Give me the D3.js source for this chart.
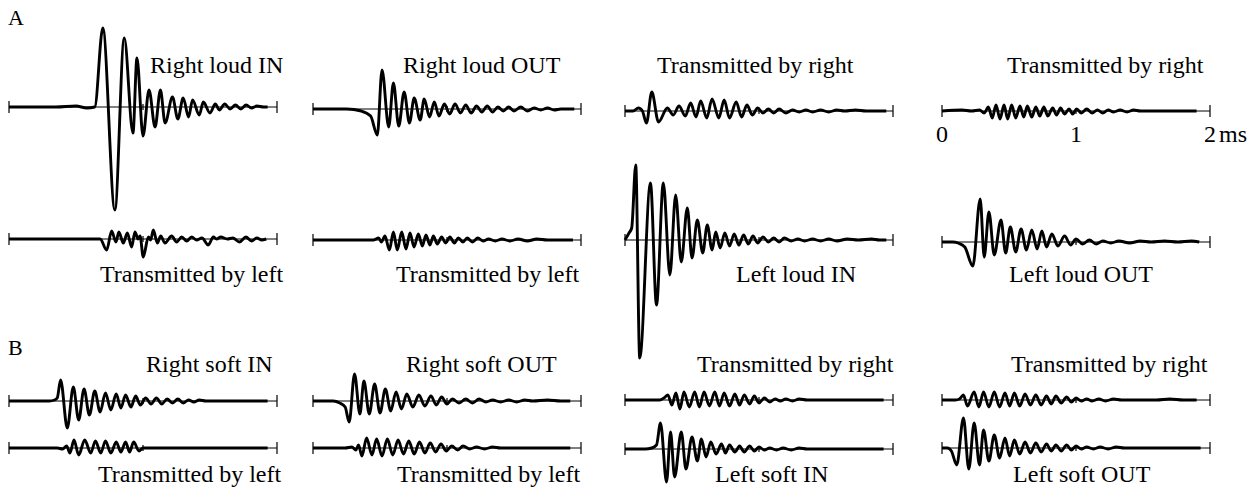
<!DOCTYPE html>
<html>
<head>
<meta charset="utf-8">
<script src="https://cdn.jsdelivr.net/npm/d3@7/dist/d3.min.js"></script>
<style>
  body { margin: 0; background: #fff; }
  text { font-family: "Liberation Serif", "Times New Roman", serif; fill: #000; }
</style>
</head>
<body>
<svg id="chart" width="1255" height="488"></svg>
<script>
// each trace: [time in ms, amplitude] at the turning points

// A, top row
const rightLoudIn = [[0,0],[0.35,0],[0.5,1],[0.58,-1],[0.64,0],[0.70,79],[0.79,-103],[0.86,69],[0.925,-26],[0.955,49],[1.0,-29],[1.045,17],[1.09,-20],[1.13,17],[1.165,-16],[1.22,10],[1.26,-12],[1.30,9],[1.34,-10],[1.37,7],[1.42,-8],[1.45,5],[1.50,-6],[1.54,3],[1.57,-3],[1.61,3],[1.65,-2],[1.69,2],[1.73,-2],[1.77,2],[1.81,-1],[1.85,1],[1.9,0],[1.93,0]];
const rightLoudOut = [[0,0],[0.25,0],[0.36,-2],[0.43,-7],[0.48,-26],[0.515,39],[0.565,-18],[0.60,26],[0.64,-17],[0.68,17],[0.72,-14],[0.755,11],[0.80,-11],[0.83,10],[0.87,-8],[0.905,7],[0.94,-7],[0.98,5],[1.02,-5],[1.06,5],[1.10,-4],[1.14,4],[1.18,-4],[1.22,3],[1.26,-3],[1.30,3],[1.34,-3],[1.38,2],[1.42,-2],[1.46,2],[1.50,-2],[1.55,2],[1.60,-2],[1.65,1],[1.70,-1],[1.75,1],[1.80,-1],[1.85,0],[1.95,0]];
const transByRightLoudA = [[0,0],[0.06,0],[0.1,3],[0.13,0],[0.16,-12],[0.20,19],[0.25,-11],[0.316,3],[0.36,-4],[0.403,5],[0.45,-5],[0.49,8],[0.53,-6],[0.565,10],[0.61,-7],[0.65,12],[0.70,-7],[0.74,11],[0.78,-7],[0.83,9],[0.87,-6],[0.91,6],[0.95,-4],[0.99,3],[1.03,-2],[1.07,2],[1.11,-2],[1.15,2],[1.20,-2],[1.25,1],[1.30,-1],[1.35,1],[1.40,-1],[1.46,1],[1.52,-1],[1.58,1],[1.64,0],[1.72,1],[1.80,0],[1.95,0]];
const transByRightLoudB = [[0,0],[0.15,1],[0.22,0],[0.28,1],[0.315,-2],[0.346,4],[0.375,-7],[0.403,6],[0.433,-8],[0.463,6],[0.49,-8],[0.52,6],[0.55,-7],[0.582,5],[0.61,-6],[0.637,5],[0.67,-6],[0.70,4],[0.73,-5],[0.76,4],[0.79,-5],[0.826,3],[0.855,-4],[0.885,3],[0.915,-3],[0.948,2],[0.975,-3],[1.005,2],[1.04,-2],[1.08,2],[1.12,-2],[1.16,1],[1.20,-2],[1.24,1],[1.28,-1],[1.33,1],[1.38,-1],[1.43,1],[1.48,0],[1.90,0]];

// A, second row
const transByLeftLoudA = [[0,0],[0.68,0],[0.729,-11],[0.766,8],[0.798,-3],[0.82,7],[0.853,-4],[0.883,6],[0.915,-8],[0.94,7],[0.963,0],[0.978,3],[1.002,-18],[1.04,2],[1.057,-1],[1.077,9],[1.107,-4],[1.132,3],[1.164,-4],[1.214,3],[1.251,-3],[1.289,2],[1.326,-2],[1.363,2],[1.40,-1],[1.44,1],[1.487,-6],[1.525,2],[1.55,0],[1.58,2],[1.63,0],[1.67,1],[1.72,-3],[1.768,2],[1.81,-2],[1.85,1],[1.886,-1],[1.92,0]];
const transByLeftLoudB = [[0,0],[0.45,0],[0.49,2],[0.51,-2],[0.537,4],[0.57,-10],[0.60,8],[0.629,-10],[0.662,8],[0.694,-9],[0.724,7],[0.754,-7],[0.786,6],[0.816,-6],[0.843,5],[0.873,-5],[0.898,4],[0.928,-4],[0.96,3],[0.99,-3],[1.022,3],[1.055,-3],[1.085,2],[1.12,-2],[1.15,2],[1.19,-2],[1.23,2],[1.27,-1],[1.31,1],[1.36,-1],[1.41,1],[1.47,-1],[1.53,1],[1.60,-1],[1.67,1],[1.75,0],[1.94,0]];
const leftLoudIn = [[0,0],[0.03,7],[0.05,12],[0.08,75],[0.11,-118],[0.19,57],[0.235,-65],[0.286,57],[0.335,-35],[0.378,45],[0.42,-22],[0.465,32],[0.50,-18],[0.54,20],[0.58,-13],[0.614,15],[0.65,-10],[0.677,8],[0.71,-8],[0.745,7],[0.78,-6],[0.815,6],[0.85,-5],[0.885,5],[0.92,-4],[0.955,4],[0.99,-3],[1.03,3],[1.07,-2],[1.11,2],[1.15,-2],[1.19,2],[1.24,-1],[1.29,1],[1.34,-1],[1.40,1],[1.46,-1],[1.52,1],[1.58,-1],[1.66,1],[1.74,0],[1.84,1],[1.90,0],[1.95,0]];
const leftLoudOut = [[0,0],[0.08,0],[0.12,-1],[0.17,-5],[0.23,-24],[0.285,43],[0.315,-15],[0.35,30],[0.39,-13],[0.44,22],[0.475,-11],[0.51,15],[0.55,-10],[0.59,13],[0.63,-8],[0.67,12],[0.71,-7],[0.745,11],[0.78,-5],[0.82,8],[0.865,-4],[0.915,6],[0.96,-3],[1.0,3],[1.05,-2],[1.10,2],[1.15,-2],[1.20,1],[1.26,-1],[1.32,1],[1.40,-1],[1.48,1],[1.56,0],[1.66,1],[1.76,0],[1.86,1],[1.92,0]];

// B, top row
const rightSoftIn = [[0,0],[0.3,0],[0.34,1],[0.36,3],[0.385,21],[0.435,-27],[0.48,14],[0.52,-19],[0.56,12],[0.60,-14],[0.64,10],[0.68,-11],[0.72,8],[0.76,-9],[0.80,7],[0.835,-7],[0.87,6],[0.91,-6],[0.945,5],[0.98,-4],[1.02,3],[1.06,-3],[1.10,3],[1.14,-3],[1.18,2],[1.22,-2],[1.26,2],[1.30,-2],[1.34,1],[1.38,-1],[1.42,1],[1.47,0],[1.93,0]];
const rightSoftOut = [[0,0],[0.15,0],[0.2,-2],[0.24,-6],[0.27,-21],[0.31,27],[0.35,-13],[0.38,20],[0.42,-13],[0.46,17],[0.50,-12],[0.54,12],[0.58,-10],[0.62,9],[0.66,-8],[0.70,7],[0.745,-6],[0.79,6],[0.835,-5],[0.88,5],[0.92,-4],[0.96,4],[1.0,-3],[1.04,2],[1.09,-2],[1.14,2],[1.19,-2],[1.24,2],[1.29,-1],[1.34,1],[1.40,-1],[1.46,1],[1.52,-1],[1.58,1],[1.64,0],[1.75,1],[1.85,0],[1.92,0]];
const transByRightSoftA = [[0,0],[0.26,0],[0.29,2],[0.32,5],[0.35,-5],[0.38,7],[0.41,-9],[0.44,8],[0.48,-7],[0.52,8],[0.555,-7],[0.59,8],[0.63,-6],[0.67,8],[0.705,-6],[0.74,7],[0.78,-6],[0.82,6],[0.855,-5],[0.89,5],[0.93,-4],[0.965,4],[1.0,-3],[1.04,2],[1.08,-2],[1.12,1],[1.16,-1],[1.20,1],[1.25,-1],[1.30,1],[1.36,0],[1.93,0]];
const transByRightSoftB = [[0,0],[0.10,0],[0.13,1],[0.16,5],[0.19,-6],[0.24,8],[0.275,-7],[0.31,8],[0.35,-7],[0.39,8],[0.43,-7],[0.47,7],[0.505,-6],[0.54,7],[0.58,-6],[0.62,6],[0.66,-5],[0.70,5],[0.74,-5],[0.78,4],[0.815,-4],[0.85,4],[0.89,-3],[0.93,3],[0.965,-2],[1.0,2],[1.04,-1],[1.08,1],[1.12,-1],[1.17,1],[1.22,-1],[1.28,1],[1.34,0],[1.6,0],[1.7,1],[1.8,0],[1.9,0]];

// B, second row
const transByLeftSoftA = [[0,0],[0.36,0],[0.40,-1],[0.43,2],[0.455,-5],[0.485,8],[0.52,-7],[0.565,8],[0.61,-5],[0.645,7],[0.685,-5],[0.72,7],[0.76,-5],[0.80,6],[0.835,-4],[0.87,6],[0.90,-4],[0.93,6],[0.97,-3],[1.0,0],[1.93,0]];
const transByLeftSoftB = [[0,0],[0.24,0],[0.29,1],[0.32,-2],[0.34,3],[0.365,-8],[0.40,10],[0.44,-7],[0.475,9],[0.515,-8],[0.555,9],[0.595,-7],[0.635,8],[0.675,-6],[0.715,7],[0.755,-6],[0.795,6],[0.835,-5],[0.875,5],[0.915,-4],[0.955,4],[0.995,-3],[1.035,2],[1.08,-2],[1.12,2],[1.17,-1],[1.22,1],[1.28,-1],[1.34,1],[1.40,0],[1.92,0]];
const leftSoftIn = [[0,0],[0.15,0],[0.2,1],[0.235,4],[0.265,26],[0.31,-33],[0.34,17],[0.37,-28],[0.42,17],[0.455,-20],[0.50,12],[0.54,-12],[0.57,10],[0.605,-8],[0.64,7],[0.68,-5],[0.72,5],[0.75,-4],[0.78,4],[0.82,-3],[0.855,3],[0.89,-3],[0.93,3],[0.965,-2],[1.0,2],[1.04,-1],[1.08,1],[1.13,-1],[1.18,1],[1.24,-1],[1.30,1],[1.36,0],[1.93,0]];
const leftSoftOut = [[0,0],[0.04,0],[0.07,-3],[0.11,-17],[0.16,30],[0.20,-21],[0.24,25],[0.28,-17],[0.31,18],[0.35,-13],[0.39,13],[0.43,-10],[0.47,10],[0.505,-8],[0.54,8],[0.58,-6],[0.62,6],[0.66,-5],[0.70,5],[0.74,-4],[0.78,4],[0.815,-3],[0.85,3],[0.89,-3],[0.93,3],[0.965,-2],[1.0,2],[1.04,-1],[1.08,1],[1.13,-1],[1.18,1],[1.24,-1],[1.30,1],[1.36,0],[1.93,0]];

const traces = [
  [rightLoudIn, rightLoudOut, transByRightLoudA, transByRightLoudB],
  [transByLeftLoudA, transByLeftLoudB, leftLoudIn, leftLoudOut],
  [rightSoftIn, rightSoftOut, transByRightSoftA, transByRightSoftB],
  [transByLeftSoftA, transByLeftSoftB, leftSoftIn, leftSoftOut]
];
const traceNames = [
  ["Right loud IN", "Right loud OUT", "Transmitted by right", "Transmitted by right"],
  ["Transmitted by left", "Transmitted by left", "Left loud IN", "Left loud OUT"],
  ["Right soft IN", "Right soft OUT", "Transmitted by right", "Transmitted by right"],
  ["Transmitted by left", "Transmitted by left", "Left soft IN", "Left soft OUT"]
];
const timeTicks = [0, 1, 2];
const timeUnit = "ms";
const sectionLetters = ["A", "B"];

// layout
const colX = [9, 313, 625, 942];
const span = 268;
const rowBase = [[107, 109, 111, 111], [239, 240, 240, 242], [401, 401, 400, 400], [448, 448, 449, 448]];
const labelX = [[150, 403, 657, 1007], [100, 396, 736, 1009], [146, 406, 697, 1011], [98, 397, 715, 1013]];
const labelY = [73, 282, 372, 482];
const letterY = [25, 355];

const svg = d3.select("#chart");

traces.forEach((row, r) => {
  row.forEach((trace, c) => {
    const x = d3.scaleLinear().domain([0, 2]).range([colX[c], colX[c] + span]);
    const base = rowBase[r][c];
    const y = d3.scaleLinear().domain([-100, 100]).range([base + 100, base - 100]);
    const g = svg.append("g");

    // time axis with end ticks and the 1 ms tick
    g.append("line")
      .attr("x1", x(0)).attr("x2", x(2))
      .attr("y1", y(0)).attr("y2", y(0))
      .attr("stroke", "#000").attr("stroke-width", 1);
    g.selectAll(".tick")
      .data(timeTicks)
      .enter()
      .append("line")
      .attr("x1", (d) => x(d)).attr("x2", (d) => x(d))
      .attr("y1", (d) => y(0) - (d === 1 ? 3 : 6))
      .attr("y2", (d) => y(0) + (d === 1 ? 3 : 6))
      .attr("stroke", "#000").attr("stroke-width", 1.2);

    const line = d3.line()
      .x((d) => x(d[0]))
      .y((d) => y(d[1]))
      .curve(d3.curveMonotoneX);

    g.append("path")
      .attr("d", line(trace))
      .attr("fill", "none")
      .attr("stroke", "#000")
      .attr("stroke-width", 2.9)
      .attr("stroke-linejoin", "round");

    g.append("text")
      .attr("x", labelX[r][c])
      .attr("y", labelY[r])
      .attr("font-size", "24px")
      .text(traceNames[r][c]);

    // time labels only under the top-right trace
    if (r === 0 && c === 3) {
      g.selectAll(".tl")
        .data(timeTicks)
        .enter()
        .append("text")
        .attr("x", (d) => x(d))
        .attr("y", 142)
        .attr("text-anchor", "middle")
        .attr("font-size", "24px")
        .text((d) => d);
      g.append("text")
        .attr("x", x(2) + 9)
        .attr("y", 142)
        .attr("font-size", "24px")
        .text(timeUnit);
    }
  });
});

svg.selectAll(".letter")
  .data(sectionLetters)
  .enter()
  .append("text")
  .attr("x", 8)
  .attr("y", (d, i) => letterY[i])
  .attr("font-size", "22px")
  .text((d) => d);
</script>
</body>
</html>
